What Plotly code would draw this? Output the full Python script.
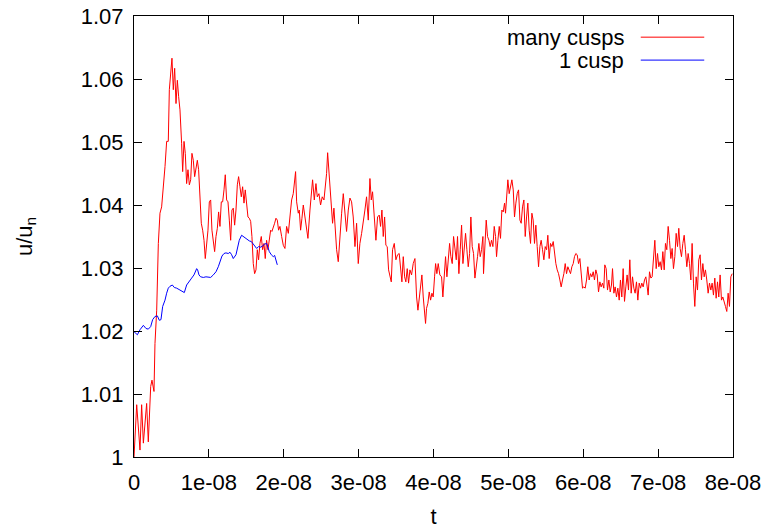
import numpy as np
import plotly.graph_objects as go

# time in units of 1e-8 s, u/u_n dimensionless
t_many = [
    0.000, 0.036, 0.080, 0.102, 0.125, 0.169, 0.191, 0.223, 0.240, 0.267,
    0.280, 0.303, 0.325, 0.347, 0.369, 0.392, 0.414, 0.436, 0.458, 0.472,
    0.490, 0.507, 0.525, 0.543, 0.561, 0.579, 0.596, 0.614, 0.636, 0.650,
    0.668, 0.685, 0.703, 0.721, 0.739, 0.757, 0.774, 0.792, 0.810, 0.828,
    0.846, 0.863, 0.881, 0.899, 0.917, 0.935, 0.952, 0.970, 0.988, 1.006,
    1.024, 1.041, 1.059, 1.077, 1.095, 1.113, 1.130, 1.148, 1.166, 1.184,
    1.202, 1.219, 1.237, 1.255, 1.273, 1.291, 1.308, 1.326, 1.344, 1.362,
    1.380, 1.397, 1.415, 1.433, 1.451, 1.469, 1.486, 1.504, 1.522, 1.540,
    1.558, 1.575, 1.593, 1.611, 1.629, 1.647, 1.664, 1.682, 1.700, 1.718,
    1.736, 1.753, 1.771, 1.789, 1.807, 1.825, 1.842, 1.860, 1.878, 1.896,
    1.914, 1.931,
    1.949, 1.972, 1.994, 2.016, 2.038, 2.061, 2.083, 2.105, 2.127, 2.150,
    2.158, 2.172, 2.194, 2.207, 2.225, 2.243, 2.261, 2.283, 2.305, 2.323,
    2.350, 2.372, 2.385, 2.408, 2.430, 2.448, 2.470, 2.492, 2.514, 2.537,
    2.554, 2.572, 2.586, 2.608, 2.626, 2.639, 2.652, 2.670, 2.688, 2.706,
    2.728, 2.750, 2.773, 2.795, 2.817, 2.839, 2.862, 2.884, 2.906, 2.928,
    2.951, 2.973, 2.995, 3.017, 3.040, 3.062, 3.084, 3.106, 3.129, 3.151,
    3.169, 3.186, 3.209, 3.231, 3.253, 3.275, 3.293, 3.311, 3.329, 3.347,
    3.364, 3.382, 3.400, 3.418, 3.436, 3.453, 3.476, 3.498, 3.520, 3.542,
    3.560, 3.578, 3.596, 3.614, 3.631, 3.649, 3.667, 3.685, 3.707, 3.729,
    3.752, 3.774, 3.792, 3.810, 3.827, 3.845, 3.863, 3.881, 3.894, 3.907,
    3.925, 3.943, 3.961, 3.979, 3.996, 4.014, 4.028, 4.045, 4.063,
    4.085, 4.108, 4.125, 4.143, 4.161, 4.179, 4.197, 4.215, 4.232, 4.250,
    4.268, 4.286, 4.304, 4.321, 4.339, 4.357, 4.375, 4.393, 4.410, 4.428,
    4.446, 4.464, 4.482, 4.499, 4.517, 4.535, 4.553, 4.571, 4.588, 4.606,
    4.624, 4.642, 4.660, 4.668, 4.686, 4.704, 4.722, 4.740, 4.757, 4.775,
    4.793, 4.811, 4.829, 4.842, 4.860, 4.878, 4.895, 4.913, 4.931, 4.949,
    4.962, 4.975, 4.993, 5.011, 5.029, 5.047, 5.065, 5.082, 5.100, 5.118,
    5.136, 5.154, 5.171, 5.189, 5.207, 5.225, 5.243, 5.260, 5.278, 5.296,
    5.314, 5.331, 5.349, 5.367, 5.385, 5.403, 5.421, 5.438, 5.456, 5.474,
    5.492, 5.510, 5.527, 5.545, 5.563, 5.581, 5.599, 5.616, 5.634, 5.652,
    5.670, 5.688, 5.705, 5.723, 5.741, 5.759, 5.777, 5.794, 5.812, 5.830,
    5.848, 5.866, 5.883, 5.901, 5.919, 5.937,
    5.955, 5.972, 5.990, 6.008, 6.026, 6.044, 6.061, 6.079, 6.097, 6.115,
    6.133, 6.150, 6.168, 6.186, 6.204, 6.222, 6.239, 6.257, 6.275, 6.288,
    6.306, 6.324, 6.342, 6.360, 6.377, 6.391, 6.409, 6.426, 6.444, 6.462,
    6.480, 6.497, 6.515, 6.533, 6.551, 6.569, 6.586, 6.604, 6.622, 6.640,
    6.658, 6.676, 6.693, 6.711, 6.729, 6.747, 6.765, 6.782, 6.800, 6.818,
    6.836, 6.854, 6.867, 6.885, 6.903, 6.920, 6.938, 6.956, 6.974, 6.992,
    7.009, 7.027, 7.045, 7.063, 7.081, 7.098, 7.116, 7.134, 7.152, 7.170,
    7.187, 7.205, 7.223, 7.241, 7.259, 7.276, 7.294, 7.312, 7.330, 7.348,
    7.365, 7.383, 7.401, 7.419, 7.437, 7.454, 7.472, 7.490, 7.508, 7.526,
    7.543, 7.561, 7.579, 7.597, 7.615, 7.632, 7.650, 7.668, 7.686, 7.704,
    7.721, 7.739, 7.757, 7.775, 7.793, 7.810, 7.828, 7.846, 7.864, 7.882,
    7.899, 7.917, 7.935, 7.953, 7.971, 7.989,
]

u_many = [
    1.0000, 1.0083, 1.0011, 1.0083, 1.0022, 1.0085, 1.0024, 1.0112, 1.0122, 1.0104,
    1.0180, 1.0233, 1.0339, 1.0387, 1.0397, 1.0424, 1.0461, 1.0501, 1.0501, 1.0583,
    1.0604, 1.0633, 1.0583, 1.0617, 1.0561, 1.0598, 1.0572, 1.0551, 1.0498, 1.0453,
    1.0501, 1.0482, 1.0434, 1.0456, 1.0432, 1.0440, 1.0482, 1.0471, 1.0445, 1.0461,
    1.0471, 1.0456, 1.0403, 1.0371, 1.0360, 1.0344, 1.0315, 1.0344, 1.0360, 1.0405,
    1.0408, 1.0360, 1.0344, 1.0326, 1.0350, 1.0363, 1.0389, 1.0366, 1.0405, 1.0405,
    1.0424, 1.0448, 1.0408, 1.0405, 1.0376, 1.0344, 1.0392, 1.0395, 1.0368, 1.0392,
    1.0432, 1.0445, 1.0429, 1.0413, 1.0429, 1.0403, 1.0424, 1.0397, 1.0381, 1.0379,
    1.0374, 1.0350, 1.0307, 1.0291, 1.0297, 1.0329, 1.0313, 1.0339, 1.0350, 1.0329,
    1.0339, 1.0315, 1.0344, 1.0329, 1.0344, 1.0360, 1.0358, 1.0363, 1.0371, 1.0379,
    1.0376, 1.0360,
    1.0366, 1.0350, 1.0336, 1.0331, 1.0366, 1.0355, 1.0387, 1.0408, 1.0418, 1.0450,
    1.0453, 1.0405, 1.0387, 1.0392, 1.0360, 1.0379, 1.0400, 1.0381, 1.0360, 1.0347,
    1.0392, 1.0424, 1.0440, 1.0408, 1.0434, 1.0413, 1.0418, 1.0400, 1.0413, 1.0408,
    1.0426, 1.0450, 1.0483, 1.0445, 1.0416, 1.0392, 1.0371, 1.0395, 1.0360, 1.0329,
    1.0310, 1.0355, 1.0387, 1.0418, 1.0387, 1.0358, 1.0392, 1.0411, 1.0405, 1.0381,
    1.0334, 1.0371, 1.0307, 1.0339, 1.0355, 1.0371, 1.0392, 1.0413, 1.0376, 1.0442,
    1.0408, 1.0421, 1.0387, 1.0344, 1.0381, 1.0384, 1.0366, 1.0392, 1.0350, 1.0381,
    1.0336, 1.0334, 1.0297, 1.0286, 1.0278, 1.0329, 1.0339, 1.0313, 1.0321, 1.0323,
    1.0302, 1.0278, 1.0318, 1.0286, 1.0278, 1.0299, 1.0276, 1.0297, 1.0289, 1.0307,
    1.0315, 1.0254, 1.0233, 1.0254, 1.0276, 1.0289, 1.0254, 1.0233, 1.0212, 1.0236,
    1.0244, 1.0262, 1.0249, 1.0260, 1.0254, 1.0286, 1.0307, 1.0291, 1.0307,
    1.0289, 1.0286, 1.0254, 1.0291, 1.0318, 1.0286, 1.0307, 1.0339, 1.0318, 1.0307,
    1.0350, 1.0329, 1.0313, 1.0350, 1.0291, 1.0329, 1.0368, 1.0307, 1.0334, 1.0355,
    1.0329, 1.0302, 1.0323, 1.0381, 1.0334, 1.0323, 1.0284, 1.0307, 1.0318, 1.0339,
    1.0318, 1.0329, 1.0350, 1.0291, 1.0339, 1.0376, 1.0350, 1.0344, 1.0334, 1.0344,
    1.0334, 1.0366, 1.0350, 1.0318, 1.0344, 1.0366, 1.0347, 1.0392, 1.0389, 1.0403,
    1.0387, 1.0418, 1.0440, 1.0418, 1.0429, 1.0440, 1.0424, 1.0381, 1.0403, 1.0418,
    1.0424, 1.0376, 1.0371, 1.0397, 1.0408, 1.0350, 1.0381, 1.0403, 1.0360, 1.0339,
    1.0387, 1.0376, 1.0339, 1.0368, 1.0334, 1.0302, 1.0334, 1.0344, 1.0329, 1.0313,
    1.0334, 1.0329, 1.0352, 1.0315, 1.0339, 1.0334, 1.0342, 1.0323, 1.0307, 1.0297,
    1.0291, 1.0281, 1.0270, 1.0281, 1.0291, 1.0307, 1.0291, 1.0302, 1.0297, 1.0291,
    1.0302, 1.0307, 1.0318, 1.0323, 1.0321, 1.0307,
    1.0315, 1.0286, 1.0268, 1.0270, 1.0268, 1.0281, 1.0302, 1.0281, 1.0291, 1.0286,
    1.0294, 1.0281, 1.0297, 1.0289, 1.0262, 1.0278, 1.0270, 1.0276, 1.0268, 1.0305,
    1.0299, 1.0265, 1.0281, 1.0262, 1.0273, 1.0299, 1.0260, 1.0270, 1.0254, 1.0268,
    1.0249, 1.0281, 1.0254, 1.0299, 1.0247, 1.0270, 1.0289, 1.0265, 1.0313, 1.0260,
    1.0286, 1.0268, 1.0260, 1.0278, 1.0249, 1.0276, 1.0268, 1.0276, 1.0270, 1.0281,
    1.0286, 1.0270, 1.0257, 1.0294, 1.0284, 1.0286, 1.0323, 1.0344, 1.0299, 1.0323,
    1.0302, 1.0310, 1.0297, 1.0326, 1.0297, 1.0339, 1.0329, 1.0366, 1.0344, 1.0315,
    1.0331, 1.0299, 1.0318, 1.0355, 1.0334, 1.0363, 1.0331, 1.0318, 1.0339, 1.0352,
    1.0329, 1.0302, 1.0323, 1.0307, 1.0281, 1.0339, 1.0276, 1.0239, 1.0286, 1.0265,
    1.0313, 1.0321, 1.0281, 1.0307, 1.0286, 1.0297, 1.0281, 1.0260, 1.0276, 1.0265,
    1.0276, 1.0257, 1.0284, 1.0252, 1.0278, 1.0254, 1.0289, 1.0249, 1.0254, 1.0244,
    1.0239, 1.0231, 1.0260, 1.0239, 1.0286, 1.0291,
]

t_one = [
    0.000, 0.045, 0.080, 0.125, 0.160, 0.191, 0.223, 0.249, 0.280, 0.312,
    0.338, 0.360, 0.383, 0.414, 0.436, 0.458, 0.481, 0.512, 0.539, 0.570,
    0.614, 0.650, 0.672, 0.703, 0.739, 0.770, 0.801, 0.819, 0.837, 0.850,
    0.868, 0.890, 0.926, 0.961, 0.992, 1.024, 1.059, 1.095, 1.126, 1.148,
    1.175, 1.202, 1.228, 1.259, 1.282, 1.304, 1.326, 1.362, 1.380, 1.406,
    1.437, 1.460, 1.486, 1.513, 1.540, 1.567, 1.593, 1.620, 1.638, 1.664,
    1.691, 1.718, 1.745, 1.771, 1.789, 1.807, 1.834, 1.860, 1.878, 1.896,
    1.914,
]

u_one = [
    1.0199, 1.0194, 1.0202, 1.0209, 1.0204, 1.0203, 1.0207, 1.0218, 1.0223, 1.0224,
    1.0217, 1.0218, 1.0239, 1.0249, 1.0260, 1.0268, 1.0271, 1.0273, 1.0269, 1.0268,
    1.0265, 1.0262, 1.0261, 1.0273, 1.0278, 1.0284, 1.0289, 1.0294, 1.0299, 1.0297,
    1.0289, 1.0286, 1.0285, 1.0286, 1.0286, 1.0285, 1.0289, 1.0294, 1.0302, 1.0310,
    1.0319, 1.0323, 1.0324, 1.0323, 1.0325, 1.0321, 1.0315, 1.0321, 1.0331, 1.0344,
    1.0352, 1.0350, 1.0347, 1.0345, 1.0343, 1.0342, 1.0338, 1.0335, 1.0331, 1.0334,
    1.0333, 1.0335, 1.0338, 1.0339, 1.0333, 1.0326, 1.0321, 1.0318, 1.0320, 1.0313,
    1.0305,
]

x_ticks = [0, 1e-8, 2e-8, 3e-8, 4e-8, 5e-8, 6e-8, 7e-8, 8e-8]
x_labels = ["0", "1e-08", "2e-08", "3e-08", "4e-08", "5e-08", "6e-08", "7e-08", "8e-08"]
y_ticks = [1.00, 1.01, 1.02, 1.03, 1.04, 1.05, 1.06, 1.07]
y_labels = ["1", "1.01", "1.02", "1.03", "1.04", "1.05", "1.06", "1.07"]

series_names = ["many cusps", "1 cusp"]
series_colors = ["#ff0000", "#0000ff"]

FONT = "Liberation Sans, Arial, Helvetica, sans-serif"
FS = 22

fig = go.Figure()
fig.add_trace(go.Scatter(
    x=np.array(t_many) * 1e-8, y=u_many, mode="lines",
    line=dict(color=series_colors[0], width=1), name=series_names[0],
    showlegend=False,
))
fig.add_trace(go.Scatter(
    x=np.array(t_one) * 1e-8, y=u_one, mode="lines",
    line=dict(color=series_colors[1], width=1), name=series_names[1],
    showlegend=False,
))

# gnuplot-style key: label right-aligned, sample line to its right
key_rows_y = [0.952, 0.900]
for name, color, ky in zip(series_names, series_colors, key_rows_y):
    fig.add_annotation(
        xref="paper", yref="paper", x=0.821, y=ky, text=name,
        showarrow=False, xanchor="right", yanchor="middle",
        font=dict(family=FONT, size=FS, color="black"),
    )
    fig.add_shape(
        type="line", xref="paper", yref="paper",
        x0=0.846, x1=0.952, y0=ky, y1=ky,
        line=dict(color=color, width=1),
    )

axis_common = dict(
    showline=True, linecolor="black", linewidth=1, mirror="allticks",
    ticks="inside", ticklen=8, tickcolor="black", tickwidth=1,
    showgrid=False, zeroline=False, automargin=False,
    tickfont=dict(family=FONT, size=FS, color="black"),
)

fig.update_layout(
    width=767, height=529,
    margin=dict(l=134, r=34, t=16, b=72),
    paper_bgcolor="white", plot_bgcolor="white",
    font=dict(family=FONT, size=FS, color="black"),
    xaxis=dict(
        range=[0, 8e-8], tickmode="array", tickvals=x_ticks, ticktext=x_labels,
        ticklabelstandoff=6,
        title=dict(text="t", font=dict(family=FONT, size=FS), standoff=16),
        **axis_common,
    ),
    yaxis=dict(
        range=[1.0, 1.07], tickmode="array", tickvals=y_ticks, ticktext=y_labels,
        ticklabelstandoff=5,
        title=dict(text="u/u<sub>n</sub>", font=dict(family=FONT, size=FS), standoff=42),
        **axis_common,
    ),
)

fig.write_html("out.html")
